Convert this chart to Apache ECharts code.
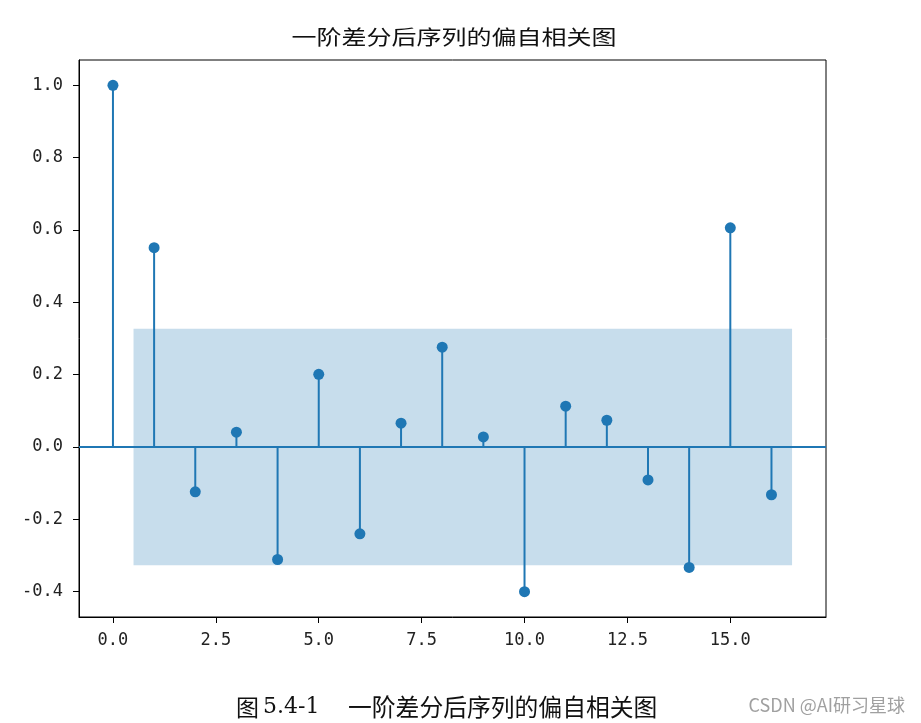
<!DOCTYPE html>
<html><head><meta charset="utf-8">
<script src="https://cdn.jsdelivr.net/npm/echarts@6/dist/echarts.min.js"></script>
<style>html,body{margin:0;padding:0;background:#fff}#c{width:921px;height:723px}</style>
</head><body><div id="c"></div>
<script>
const lags = [0,1,2,3,4,5,6,7,8,9,10,11,12,13,14,15,16];
const pacf = [1.0,0.551,-0.124,0.041,-0.311,0.201,-0.240,0.066,0.276,0.028,-0.400,0.113,0.074,-0.091,-0.333,0.606,-0.132];
const confUpper = 0.327;
const confLower = -0.327;
const bandStart = 0.5, bandEnd = 16.5;
const xTicks = [0,2.5,5,7.5,10,12.5,15];
const yTicks = [-0.4,-0.2,0,0.2,0.4,0.6,0.8,1.0];
const titleText = '一阶差分后序列的偏自相关图';
const captionLabel = '图';
const captionNumber = '5.4-1';
const captionTitle = '一阶差分后序列的偏自相关图';
const watermark = 'CSDN @AI研习星球';

const C = '#1f77b4';
const pts = lags.map((l,i)=>[l,pacf[i]]);
const tickFont = {color:'#222',fontFamily:'DejaVu Sans Mono',fontSize:17};
const chart = echarts.init(document.getElementById('c'));
chart.setOption({
  animation:false,
  grid:{left:79,right:95,top:60,bottom:106,show:true,borderColor:'#000',borderWidth:1,backgroundColor:'transparent'},
  xAxis:{type:'value',min:-0.825,max:17.325,splitLine:{show:false},
    axisLine:{show:true,onZero:false,lineStyle:{color:'#000'}},
    axisTick:{show:true,length:6,lineStyle:{color:'#000'},customValues:xTicks},
    axisLabel:Object.assign({customValues:xTicks,formatter:v=>v.toFixed(1),margin:15},tickFont)},
  yAxis:{type:'value',min:-0.47,max:1.07,splitLine:{show:false},
    axisLine:{show:true,onZero:false,lineStyle:{color:'#000'}},
    axisTick:{show:true,length:6,lineStyle:{color:'#000'},customValues:yTicks},
    axisLabel:Object.assign({customValues:yTicks,formatter:v=>v.toFixed(1),margin:16},tickFont)},
  series:[
    {type:'custom',data:pts,z:3,
      renderItem:(params,api)=>{
        const p0=api.coord([api.value(0),0]);const p1=api.coord([api.value(0),api.value(1)]);
        return {type:'line',shape:{x1:p0[0],y1:p0[1],x2:p1[0],y2:p1[1]},style:{stroke:C,lineWidth:2}};
      },
      markArea:{silent:true,itemStyle:{color:'rgba(31,119,180,0.25)'},data:[[{coord:[bandStart,confUpper]},{coord:[bandEnd,confLower]}]]},
      markLine:{silent:true,symbol:'none',label:{show:false},lineStyle:{color:C,width:2,type:'solid'},data:[{yAxis:0}]}
    },
    {type:'scatter',data:pts,symbolSize:11,itemStyle:{color:C,opacity:1},z:4}
  ],
  graphic:[
    {type:'text',x:454,y:37,scaleX:1.25,style:{text:titleText,font:'20px "Noto Sans CJK SC", sans-serif',fill:'#111',textAlign:'center',textVerticalAlign:'middle'}},
    {type:'text',x:236,y:707,style:{text:captionLabel,font:'23px "Noto Sans CJK SC", serif',fill:'#111',textVerticalAlign:'middle'}},
    {type:'text',x:263,y:707,style:{text:captionNumber,font:'22px "DejaVu Serif", serif',fill:'#111',textVerticalAlign:'middle'}},
    {type:'text',x:348,y:707,style:{text:captionTitle,font:'23.8px "Noto Sans CJK SC", serif',fill:'#111',textVerticalAlign:'middle'}},
    {type:'text',x:905,y:705,style:{text:watermark,font:'18px "Noto Sans CJK SC", sans-serif',fill:'#a0a0a0',textAlign:'right',textVerticalAlign:'middle'}}
  ]
});
</script></body></html>
